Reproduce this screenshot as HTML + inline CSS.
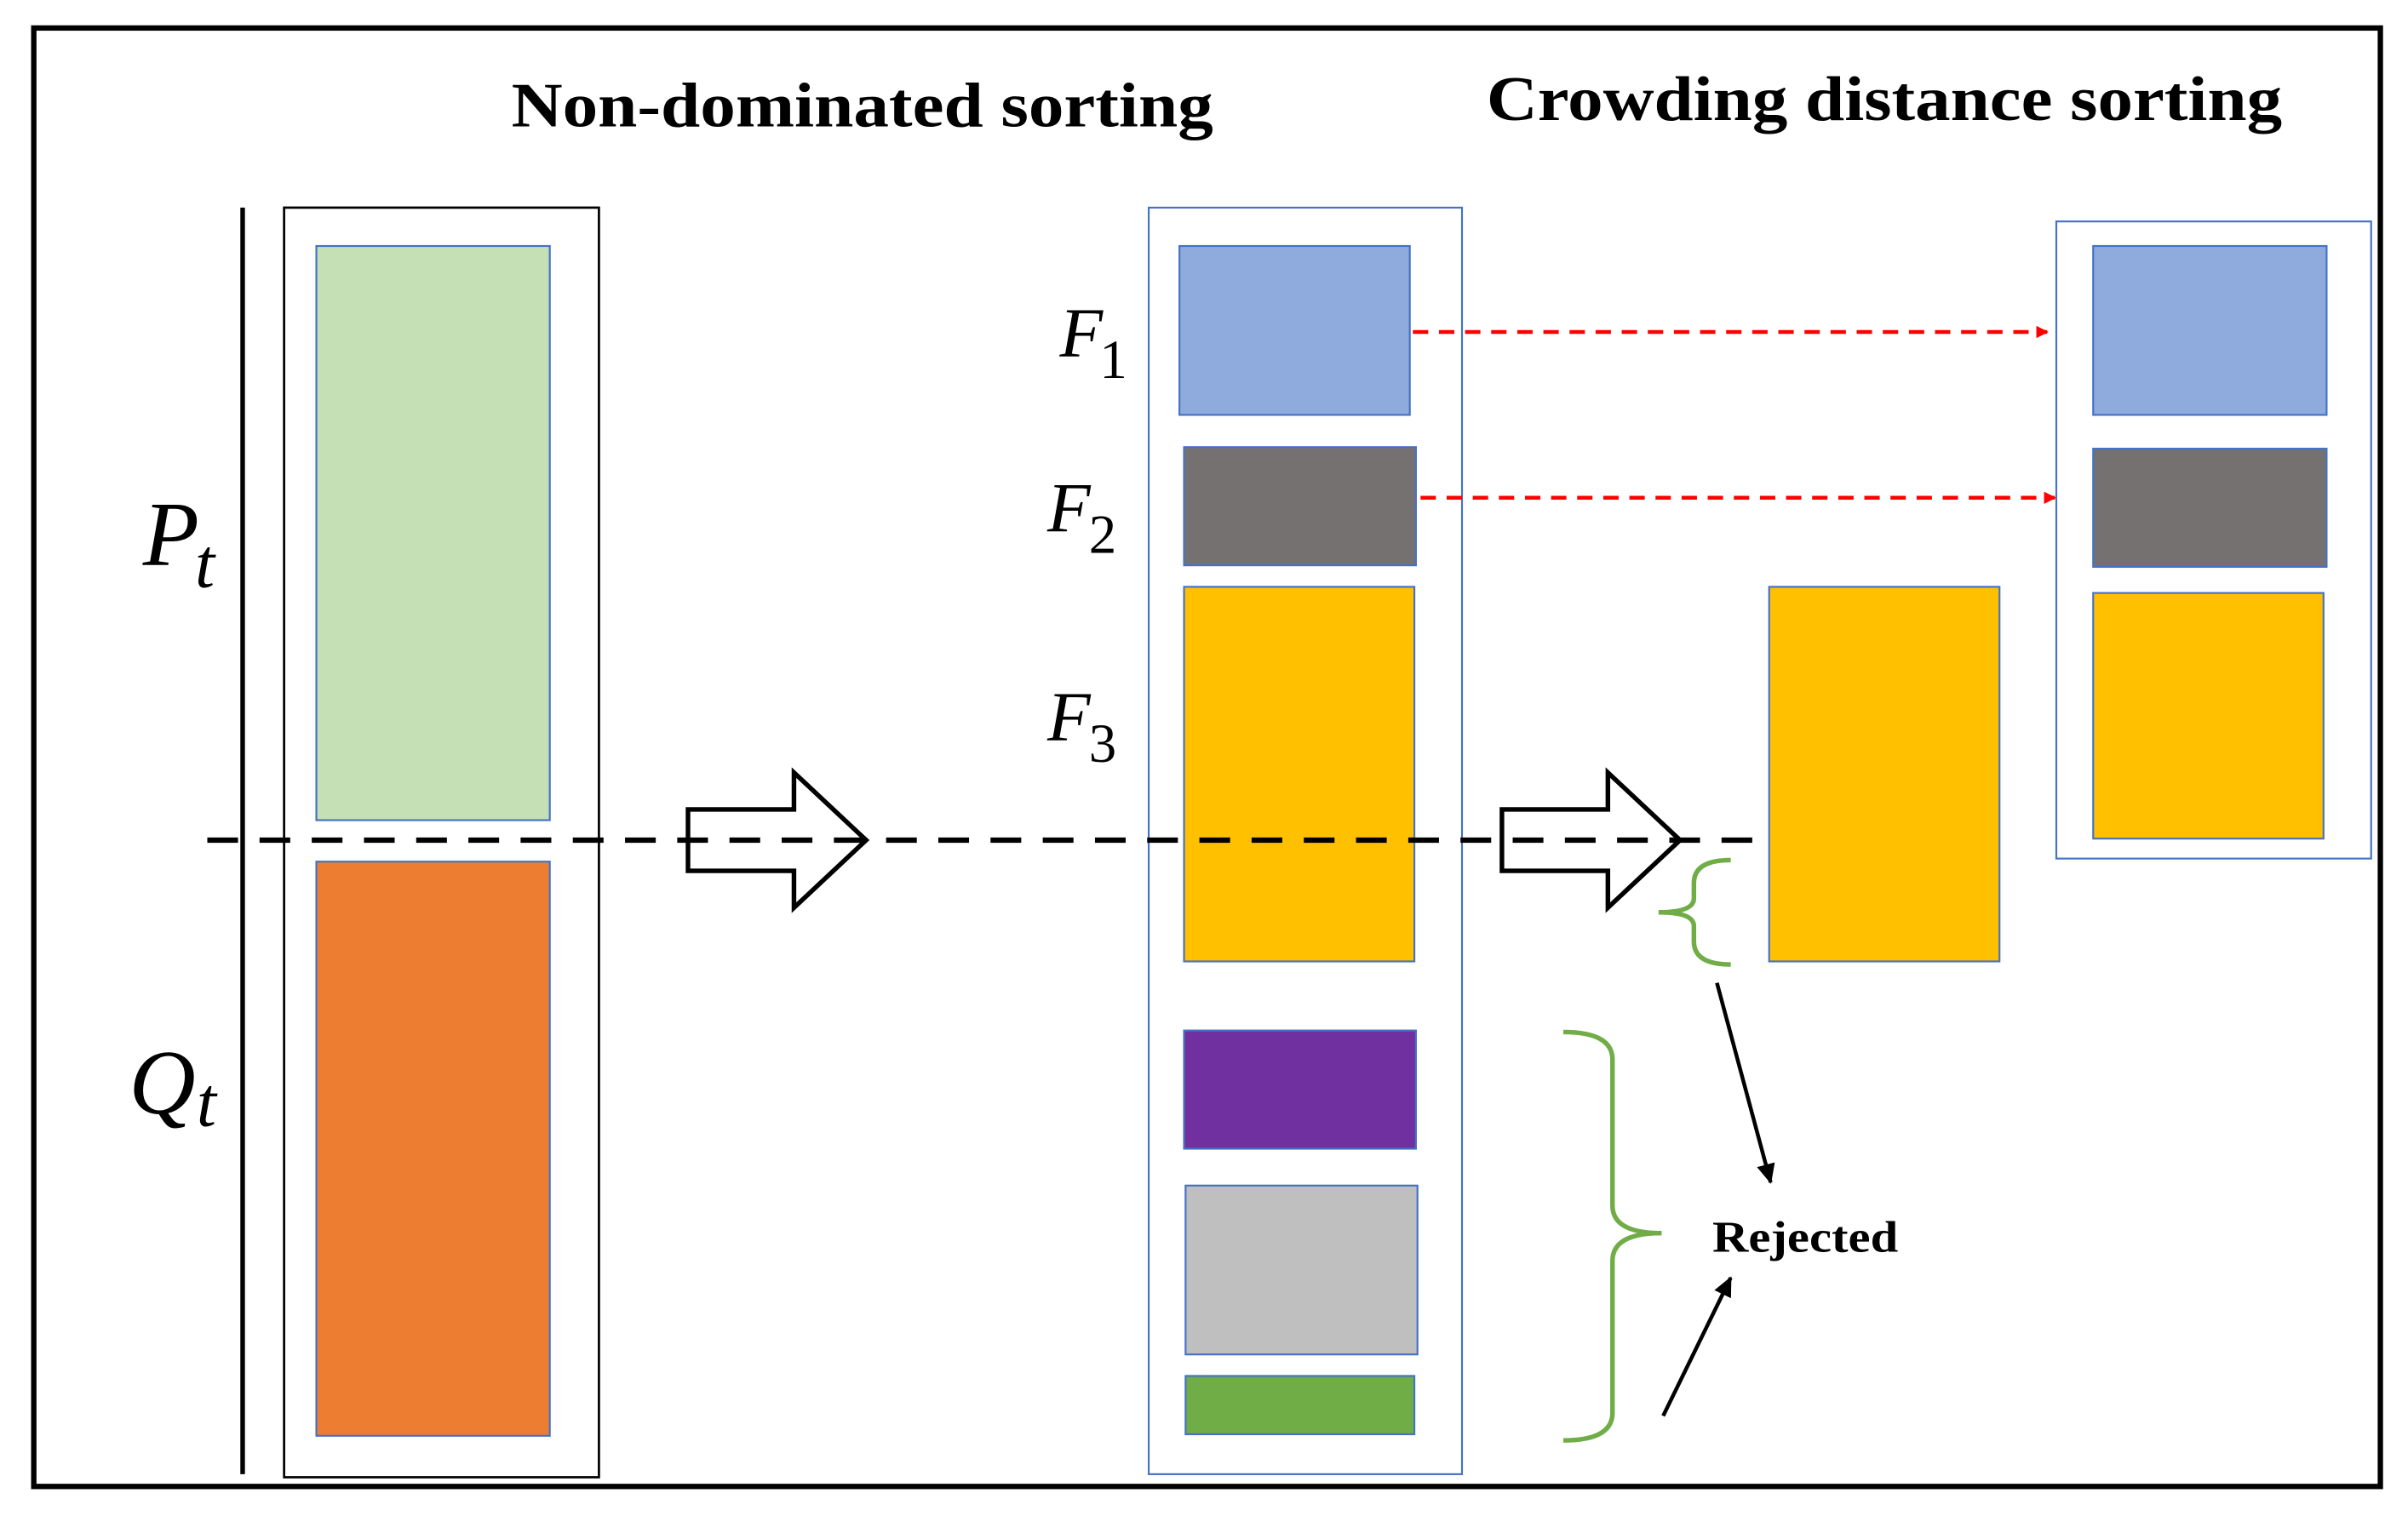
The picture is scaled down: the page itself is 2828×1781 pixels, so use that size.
<!DOCTYPE html>
<html><head><meta charset="utf-8"><style>html,body{margin:0;padding:0;background:#fff}svg{display:block}</style></head>
<body>
<svg width="2828" height="1781" viewBox="0 0 1568 987" xmlns="http://www.w3.org/2000/svg">
<defs>
<marker id="ar" markerWidth="8" markerHeight="8" refX="7" refY="4" orient="auto" markerUnits="userSpaceOnUse"><path d="M0,0 L8,4 L0,8 z" fill="#ff0000"/></marker>
<marker id="ab" markerWidth="14" markerHeight="14" refX="12" refY="7" orient="auto" markerUnits="userSpaceOnUse"><path d="M0,1 L13,7 L0,13 z" fill="#000"/></marker>
</defs>
<rect x="0" y="0" width="1568" height="987" fill="#fff"/>
<rect x="22" y="18" width="1528" height="950" fill="none" stroke="#000" stroke-width="3.5"/>
<g font-family="Liberation Serif, serif" font-weight="bold" font-size="41">
<text x="333" y="82" textLength="457" lengthAdjust="spacingAndGlyphs">Non-dominated sorting</text>
<text x="968" y="78" textLength="518" lengthAdjust="spacingAndGlyphs">Crowding distance sorting</text>
</g>
<line x1="158" y1="135" x2="158" y2="960" stroke="#000" stroke-width="3"/>
<rect x="185" y="135" width="205" height="827" fill="none" stroke="#000" stroke-width="1.5"/>
<g stroke="#4472c4" stroke-width="1.2">
<rect x="206" y="160" width="152" height="374" fill="#c5e0b4"/>
<rect x="206" y="561" width="152" height="374" fill="#ed7d31"/>
<rect x="748" y="135" width="204" height="825" fill="none"/>
<rect x="768" y="160" width="150" height="110" fill="#8faadc"/>
<rect x="771" y="291" width="151" height="77" fill="#767171"/>
<rect x="771" y="382" width="150" height="244" fill="#ffc000"/>
<rect x="771" y="671" width="151" height="77" fill="#7030a0"/>
<rect x="772" y="772" width="151" height="110" fill="#bfbfbf"/>
<rect x="772" y="896" width="149" height="38" fill="#70ad47"/>
<rect x="1152" y="382" width="150" height="244" fill="#ffc000"/>
<rect x="1339" y="144" width="205" height="415" fill="none"/>
<rect x="1363" y="160" width="152" height="110" fill="#8faadc"/>
<rect x="1363" y="292" width="152" height="77" fill="#767171"/>
<rect x="1363" y="386" width="150" height="160" fill="#ffc000"/>
</g>
<line x1="135" y1="547" x2="1152" y2="547" stroke="#000" stroke-width="3.5" stroke-dasharray="20,14"/>
<g fill="none" stroke="#000" stroke-width="3">
<path d="M448,527 L517,527 L517,503 L564,547 L517,591 L517,567 L448,567 Z"/>
<path d="M978,527 L1047,527 L1047,503 L1094,547 L1047,591 L1047,567 L978,567 Z"/>
</g>
<g font-family="Liberation Serif, serif" font-style="italic">
<text x="93" y="368" font-size="60">P</text><text x="127" y="382" font-size="46">t</text>
<text x="84" y="725" font-size="60">Q</text><text x="128" y="733" font-size="46">t</text>
<text x="690" y="232" font-size="46">F</text><text x="716" y="246" font-size="36" font-style="normal">1</text>
<text x="682" y="346" font-size="46">F</text><text x="709" y="360" font-size="36" font-style="normal">2</text>
<text x="682" y="482" font-size="46">F</text><text x="709" y="496" font-size="36" font-style="normal">3</text>
</g>
<line x1="920" y1="216" x2="1333" y2="216" stroke="#ff0000" stroke-width="2.5" stroke-dasharray="10,7" marker-end="url(#ar)"/>
<line x1="925" y1="324" x2="1338" y2="324" stroke="#ff0000" stroke-width="2.5" stroke-dasharray="10,7" marker-end="url(#ar)"/>
<g fill="none" stroke="#70ad47" stroke-width="3">
<path d="M1127,560 Q1103,560 1103,575 L1103,585 Q1103,594 1080,594 Q1103,594 1103,603 L1103,613 Q1103,628 1127,628"/>
<path d="M1018,672 Q1050,672 1050,690 L1050,785 Q1050,803 1082,803 Q1050,803 1050,821 L1050,920 Q1050,938 1018,938"/>
</g>
<line x1="1118" y1="640" x2="1153" y2="770" stroke="#000" stroke-width="2.5" marker-end="url(#ab)"/>
<line x1="1083" y1="922" x2="1127" y2="832" stroke="#000" stroke-width="2.5" marker-end="url(#ab)"/>
<text x="1115" y="815" font-family="Liberation Serif, serif" font-weight="bold" font-size="29" textLength="121" lengthAdjust="spacingAndGlyphs">Rejected</text>
</svg>
</body></html>
